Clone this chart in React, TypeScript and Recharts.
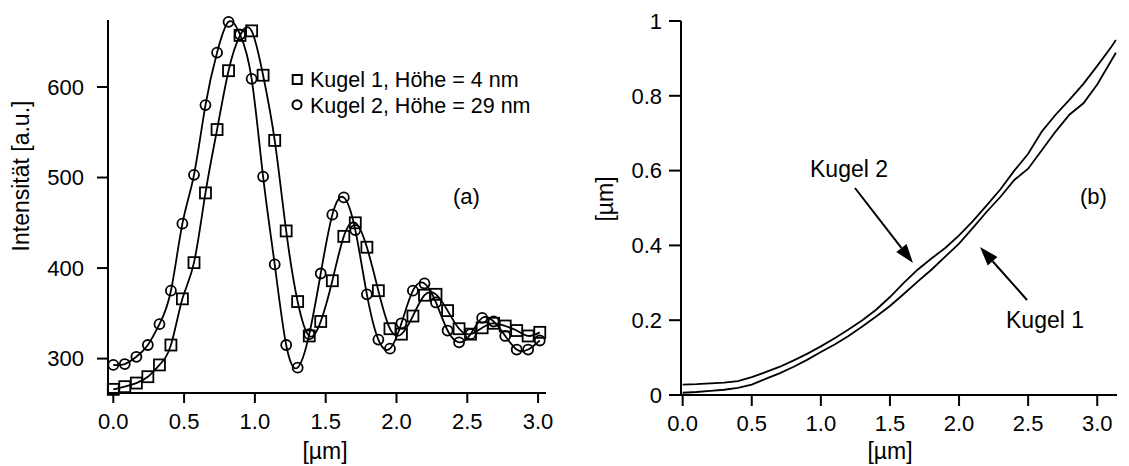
import React from 'react';
import { LineChart, Line, XAxis, YAxis } from 'recharts';

// (a) intensity profiles
const posA = [
  0, 0.081, 0.163, 0.244, 0.326, 0.407, 0.488, 0.57, 0.651, 0.733, 0.814, 0.895, 0.977,
  1.058, 1.14, 1.221, 1.302, 1.384, 1.465, 1.547, 1.628, 1.709, 1.791, 1.872, 1.954,
  2.035, 2.116, 2.198, 2.279, 2.361, 2.442, 2.523, 2.605, 2.686, 2.768, 2.849, 2.93, 3.012,
];
const kugel1A = [
  266, 269, 273, 280, 293, 315, 366, 406, 483, 553, 618, 657, 662, 613, 541, 441, 363, 325,
  341, 386, 435, 450, 423, 375, 333, 327, 347, 370, 371, 353, 333, 327, 334, 339, 336, 331,
  325, 329,
];
const kugel2A = [
  293, 294, 302, 315, 338, 375, 449, 503, 580, 638, 672, 658, 609, 501, 404, 315, 290, 327,
  394, 459, 478, 442, 371, 321, 311, 339, 375, 383, 362, 331, 318, 327, 345, 341, 325, 310,
  310, 320,
];
const xTicksA = [0, 0.5, 1, 1.5, 2, 2.5, 3];
const yTicksA = [300, 400, 500, 600];

// (b) height profiles
const posB = [
  0, 0.1, 0.2, 0.3, 0.4, 0.5, 0.6, 0.7, 0.8, 0.9, 1.0, 1.1, 1.2, 1.3, 1.4, 1.5, 1.6, 1.7,
  1.8, 1.9, 2.0, 2.1, 2.2, 2.3, 2.4, 2.5, 2.6, 2.7, 2.8, 2.9, 3.0, 3.1, 3.135,
];
const kugel1B = [
  0.006, 0.008, 0.011, 0.014, 0.019, 0.028, 0.043, 0.058, 0.075, 0.094, 0.115, 0.135, 0.158,
  0.183, 0.21, 0.238, 0.27, 0.303, 0.335, 0.37, 0.405, 0.447, 0.49, 0.53, 0.575, 0.605, 0.655,
  0.705, 0.75, 0.78, 0.83, 0.893, 0.915,
];
const kugel2B = [
  0.028, 0.029, 0.031, 0.033, 0.037, 0.048, 0.061, 0.075, 0.092, 0.11, 0.13, 0.152, 0.175,
  0.2, 0.228, 0.262, 0.3, 0.335, 0.365, 0.393, 0.427, 0.465, 0.507, 0.55, 0.6, 0.645, 0.705,
  0.75, 0.79, 0.832, 0.88, 0.93, 0.949,
];
const xTicksB = [0, 0.5, 1, 1.5, 2, 2.5, 3];
const yTicksB = [0, 0.2, 0.4, 0.6, 0.8, 1];

const dataA = posA.map((x, i) => ({ x, k1: kugel1A[i], k2: kugel2A[i] }));
const dataB = posB.map((x, i) => ({ x, k1: kugel1B[i], k2: kugel2B[i] }));

const FONT = '"Liberation Sans", Arial, sans-serif';
const tickStyle = { fontFamily: FONT, fontSize: 22, fill: '#000' };
const axisLine = { stroke: '#000', strokeWidth: 2 };

const SquareDot = (props: any) => {
  const { cx, cy, index } = props;
  if (cx == null || cy == null) return <g key={`sq-${index}`} />;
  return (
    <rect key={`sq-${index}`} x={cx - 5.5} y={cy - 5.5} width={11} height={11}
      fill="none" stroke="#000" strokeWidth={1.8} />
  );
};

const Arrow: React.FC<{ x1: number; y1: number; x2: number; y2: number }> = ({ x1, y1, x2, y2 }) => {
  const dx = x2 - x1, dy = y2 - y1;
  const len = Math.hypot(dx, dy);
  const ux = dx / len, uy = dy / len;
  const hl = 19, hw = 6.5;
  const bx = x2 - ux * hl, by = y2 - uy * hl;
  const pts = `${x2},${y2} ${bx - uy * hw},${by + ux * hw} ${bx + uy * hw},${by - ux * hw}`;
  return (
    <g>
      <line x1={x1} y1={y1} x2={bx} y2={by} stroke="#000" strokeWidth={2} />
      <polygon points={pts} fill="#000" />
    </g>
  );
};

export default function App() {
  return (
    <div style={{ position: 'absolute', left: 0, top: 0, width: 1129, height: 466, background: '#fff' }}>
      <div style={{ position: 'absolute', left: 0, top: 0 }}>
        <LineChart width={560} height={466} data={dataA} margin={{ top: 20, right: 14, bottom: 0, left: 0 }}>
          <XAxis dataKey="x" type="number" domain={[-0.0374, 3.056]} ticks={xTicksA}
            tickFormatter={(v: number) => v.toFixed(1)} height={73} tick={tickStyle}
            axisLine={axisLine} tickLine={axisLine} tickSize={10} tickMargin={10} />
          <YAxis type="number" domain={[262, 674]} ticks={yTicksA} width={108}
            tick={tickStyle} axisLine={axisLine} tickLine={axisLine} tickSize={11} tickMargin={13} />
          <Line dataKey="k1" type="natural" stroke="#000" strokeWidth={1.8}
            dot={SquareDot} activeDot={false} isAnimationActive={false} />
          <Line dataKey="k2" type="natural" stroke="#000" strokeWidth={1.8}
            dot={{ r: 5, stroke: '#000', strokeWidth: 1.8, fill: 'none' }} activeDot={false} isAnimationActive={false} />
        </LineChart>
      </div>
      <div style={{ position: 'absolute', left: 560, top: 0 }}>
        <LineChart width={569} height={466} data={dataB} margin={{ top: 21, right: 12, bottom: 0, left: 0 }}>
          <XAxis dataKey="x" type="number" domain={[-0.012, 3.143]} ticks={xTicksB}
            tickFormatter={(v: number) => v.toFixed(1)} height={71} tick={tickStyle}
            axisLine={axisLine} tickLine={axisLine} tickSize={11} tickMargin={9} />
          <YAxis type="number" domain={[0, 1]} ticks={yTicksB} width={121}
            tick={tickStyle} axisLine={axisLine} tickLine={axisLine} tickSize={12} tickMargin={7} />
          <Line dataKey="k1" type="linear" stroke="#000" strokeWidth={1.8} dot={false}
            activeDot={false} isAnimationActive={false} />
          <Line dataKey="k2" type="linear" stroke="#000" strokeWidth={1.8} dot={false}
            activeDot={false} isAnimationActive={false} />
        </LineChart>
      </div>
      <svg width={1129} height={466} style={{ position: 'absolute', left: 0, top: 0, pointerEvents: 'none' }}
        fontFamily={FONT}>
        <rect x={292.7} y={75} width={9} height={9} fill="none" stroke="#000" strokeWidth={2} />
        <text x={310} y={87.3} fontSize={21.5}>Kugel 1, Höhe = 4 nm</text>
        <circle cx={297} cy={104.7} r={4.5} fill="none" stroke="#000" strokeWidth={2} />
        <text x={310} y={112.7} fontSize={21.5}>Kugel 2, Höhe = 29 nm</text>
        <text x={453} y={204} fontSize={22}>(a)</text>
        <text x={1080} y={204} fontSize={22}>(b)</text>
        <text x={29} y={176} fontSize={23} textAnchor="middle" transform="rotate(-90 29 176)">Intensität [a.u.]</text>
        <text x={613} y={199} fontSize={23} textAnchor="middle" transform="rotate(-90 613 199)">[µm]</text>
        <text x={325} y={459} fontSize={23} textAnchor="middle">[µm]</text>
        <text x={890} y={459} fontSize={23} textAnchor="middle">[µm]</text>
        <text x={810} y={177.3} fontSize={23}>Kugel 2</text>
        <Arrow x1={855} y1={188} x2={913} y2={263} />
        <text x={1006} y={327.7} fontSize={23}>Kugel 1</text>
        <Arrow x1={1027} y1={300} x2={980} y2={247} />
      </svg>
    </div>
  );
}
